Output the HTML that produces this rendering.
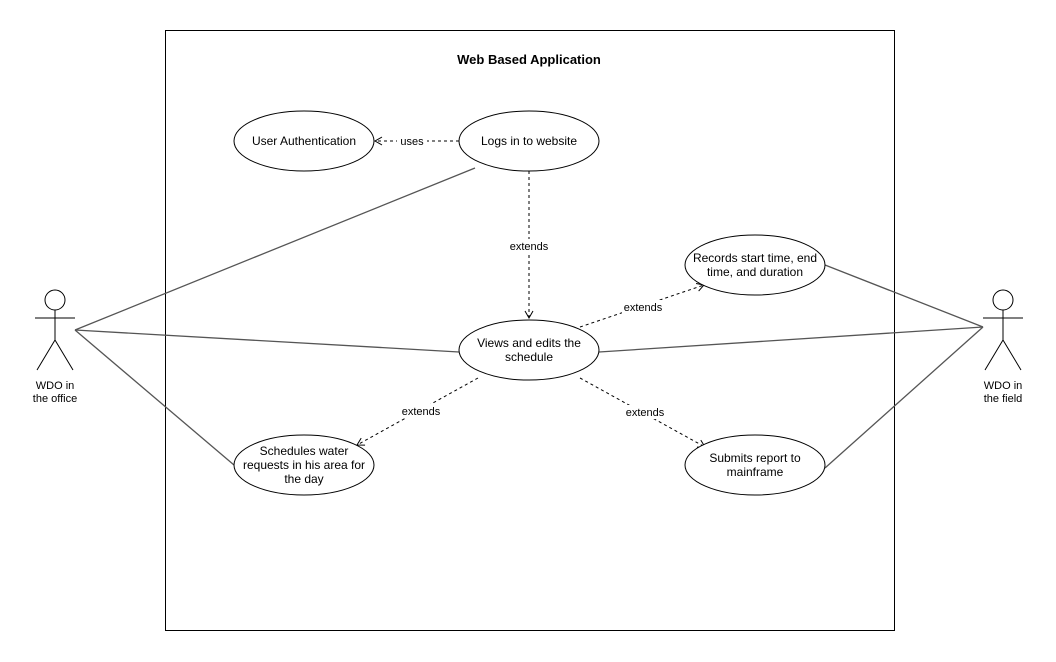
<!DOCTYPE html>
<html><head><style>body{margin:0;background:#fff}svg{display:block}</style></head><body>
<svg width="1056" height="662" xmlns="http://www.w3.org/2000/svg" font-family="Liberation Sans, Arial, sans-serif" font-size="12">
<defs><marker id="a" markerWidth="10" markerHeight="10" refX="8" refY="5" orient="auto" markerUnits="userSpaceOnUse"><path d="M1,1 L8,5 L1,9" fill="none" stroke="#000" stroke-width="1"/></marker></defs>
<rect x="165.5" y="30.5" width="729" height="600" fill="#fff" stroke="#000"/>
<text x="529" y="64" text-anchor="middle" font-weight="bold" font-size="13">Web Based Application</text>
<g stroke="#555" stroke-width="1.3" fill="none">
<line x1="75" y1="330" x2="475" y2="168"/>
<line x1="75" y1="330" x2="459" y2="352"/>
<line x1="75" y1="330" x2="234" y2="465"/>
<line x1="983" y1="327" x2="825" y2="265"/>
<line x1="983" y1="327" x2="599" y2="352"/>
<line x1="983" y1="327" x2="825" y2="468"/>
</g>
<g stroke="#000" stroke-width="1" fill="none" stroke-dasharray="3,3" marker-end="url(#a)">
<line x1="459" y1="141" x2="375" y2="141"/>
<line x1="529" y1="171" x2="529" y2="318"/>
<line x1="580" y1="327" x2="704" y2="285"/>
<line x1="478" y1="378" x2="357" y2="445"/>
<line x1="580" y1="378" x2="705" y2="447"/>
</g>
<g fill="#fff">
<rect x="397" y="134" width="30" height="14"/>
<rect x="508" y="239" width="42" height="14"/>
<rect x="622" y="300" width="42" height="14"/>
<rect x="400" y="404" width="42" height="14"/>
<rect x="624" y="405" width="42" height="14"/>
</g>
<g font-size="11" text-anchor="middle">
<text x="412" y="145">uses</text>
<text x="529" y="250">extends</text>
<text x="643" y="311">extends</text>
<text x="421" y="415">extends</text>
<text x="645" y="416">extends</text>
</g>
<g fill="#fff" stroke="#000">
<ellipse cx="304" cy="141" rx="70" ry="30"/>
<ellipse cx="529" cy="141" rx="70" ry="30"/>
<ellipse cx="755" cy="265" rx="70" ry="30"/>
<ellipse cx="529" cy="350" rx="70" ry="30"/>
<ellipse cx="304" cy="465" rx="70" ry="30"/>
<ellipse cx="755" cy="465" rx="70" ry="30"/>
</g>
<g text-anchor="middle">
<text x="304" y="145">User Authentication</text>
<text x="529" y="145">Logs in to website</text>
<text x="755" y="262">Records start time, end</text>
<text x="755" y="276">time, and duration</text>
<text x="529" y="347">Views and edits the</text>
<text x="529" y="361">schedule</text>
<text x="304" y="455">Schedules water</text>
<text x="304" y="469">requests in his area for</text>
<text x="304" y="483">the day</text>
<text x="755" y="462">Submits report to</text>
<text x="755" y="476">mainframe</text>
</g>
<g stroke="#000" fill="#fff">
<circle cx="55" cy="300" r="10"/>
<path d="M55 310V340M35 318H75M55 340L37 370M55 340L73 370" fill="none"/>
<circle cx="1003" cy="300" r="10"/>
<path d="M1003 310V340M983 318H1023M1003 340L985 370M1003 340L1021 370" fill="none"/>
</g>
<g text-anchor="middle" font-size="11">
<text x="55" y="389">WDO in</text><text x="55" y="402">the office</text>
<text x="1003" y="389">WDO in</text><text x="1003" y="402">the field</text>
</g>
</svg>
</body></html>
